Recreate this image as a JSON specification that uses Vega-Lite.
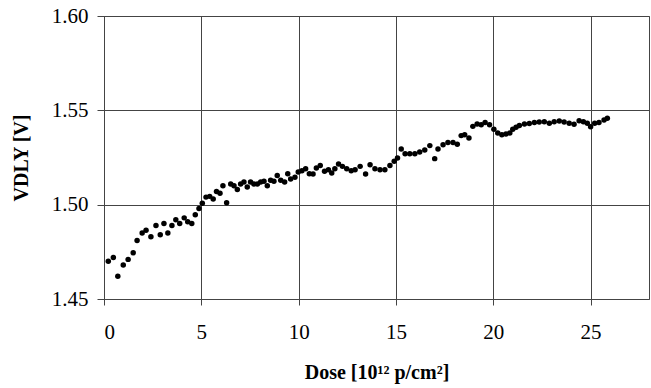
{
  "$schema": "https://vega.github.io/schema/vega-lite/v6.json",
  "width": 545,
  "height": 283,
  "padding": {"left": 104, "top": 16, "right": 2, "bottom": 89},
  "autosize": {"type": "none"},
  "background": "white",
  "config": {
    "view": {"stroke": "#444444", "strokeWidth": 1},
    "axis": {
      "labelFont": "Liberation Serif",
      "titleFont": "Liberation Serif",
      "labelColor": "black",
      "titleColor": "black",
      "gridColor": "#444444",
      "gridOpacity": 1,
      "gridWidth": 1,
      "domainColor": "#444444",
      "tickColor": "#444444"
    }
  },
  "data": {
    "values": [
      {"dose": 0.22, "v": 1.470}, {"dose": 0.48, "v": 1.472}, {"dose": 0.71, "v": 1.462},
      {"dose": 0.99, "v": 1.468}, {"dose": 1.24, "v": 1.471}, {"dose": 1.50, "v": 1.4745},
      {"dose": 1.70, "v": 1.481}, {"dose": 1.96, "v": 1.485}, {"dose": 2.16, "v": 1.4865},
      {"dose": 2.41, "v": 1.483}, {"dose": 2.67, "v": 1.489}, {"dose": 2.89, "v": 1.484},
      {"dose": 3.08, "v": 1.490}, {"dose": 3.28, "v": 1.485}, {"dose": 3.49, "v": 1.489},
      {"dose": 3.69, "v": 1.492}, {"dose": 3.89, "v": 1.490}, {"dose": 4.12, "v": 1.493},
      {"dose": 4.30, "v": 1.491}, {"dose": 4.51, "v": 1.490}, {"dose": 4.69, "v": 1.4947},
      {"dose": 4.88, "v": 1.498}, {"dose": 5.05, "v": 1.5007}, {"dose": 5.24, "v": 1.504},
      {"dose": 5.43, "v": 1.5044}, {"dose": 5.61, "v": 1.503}, {"dose": 5.78, "v": 1.507},
      {"dose": 5.96, "v": 1.506}, {"dose": 6.11, "v": 1.510}, {"dose": 6.30, "v": 1.501},
      {"dose": 6.51, "v": 1.511}, {"dose": 6.68, "v": 1.510}, {"dose": 6.85, "v": 1.508},
      {"dose": 7.02, "v": 1.511}, {"dose": 7.19, "v": 1.512}, {"dose": 7.36, "v": 1.5094},
      {"dose": 7.53, "v": 1.512}, {"dose": 7.70, "v": 1.511}, {"dose": 7.88, "v": 1.511},
      {"dose": 8.05, "v": 1.512}, {"dose": 8.22, "v": 1.5124}, {"dose": 8.39, "v": 1.510},
      {"dose": 8.56, "v": 1.513}, {"dose": 8.73, "v": 1.5124}, {"dose": 8.90, "v": 1.5154},
      {"dose": 9.08, "v": 1.513}, {"dose": 9.28, "v": 1.512}, {"dose": 9.44, "v": 1.5164},
      {"dose": 9.59, "v": 1.5136}, {"dose": 9.81, "v": 1.5145}, {"dose": 9.98, "v": 1.5173},
      {"dose": 10.17, "v": 1.518}, {"dose": 10.36, "v": 1.519}, {"dose": 10.55, "v": 1.5164},
      {"dose": 10.74, "v": 1.5163}, {"dose": 10.91, "v": 1.5194}, {"dose": 11.11, "v": 1.5207},
      {"dose": 11.33, "v": 1.5177}, {"dose": 11.53, "v": 1.5185}, {"dose": 11.70, "v": 1.5168},
      {"dose": 11.86, "v": 1.519}, {"dose": 12.05, "v": 1.5215}, {"dose": 12.25, "v": 1.5203},
      {"dose": 12.47, "v": 1.519}, {"dose": 12.70, "v": 1.518}, {"dose": 12.90, "v": 1.5185},
      {"dose": 13.16, "v": 1.5203}, {"dose": 13.44, "v": 1.5162}, {"dose": 13.67, "v": 1.5212},
      {"dose": 13.92, "v": 1.519}, {"dose": 14.18, "v": 1.5185}, {"dose": 14.43, "v": 1.5185},
      {"dose": 14.69, "v": 1.5207}, {"dose": 14.91, "v": 1.523}, {"dose": 15.08, "v": 1.5247},
      {"dose": 15.27, "v": 1.5295}, {"dose": 15.47, "v": 1.527}, {"dose": 15.71, "v": 1.527},
      {"dose": 15.97, "v": 1.527}, {"dose": 16.22, "v": 1.5279}, {"dose": 16.48, "v": 1.529},
      {"dose": 16.74, "v": 1.5313}, {"dose": 16.99, "v": 1.5244}, {"dose": 17.16, "v": 1.5295},
      {"dose": 17.42, "v": 1.5318}, {"dose": 17.67, "v": 1.533}, {"dose": 17.93, "v": 1.533},
      {"dose": 18.15, "v": 1.532}, {"dose": 18.35, "v": 1.5366}, {"dose": 18.53, "v": 1.537},
      {"dose": 18.75, "v": 1.5353}, {"dose": 18.95, "v": 1.5415}, {"dose": 19.17, "v": 1.5428},
      {"dose": 19.38, "v": 1.5424}, {"dose": 19.58, "v": 1.5436}, {"dose": 19.81, "v": 1.5424},
      {"dose": 20.03, "v": 1.540}, {"dose": 20.23, "v": 1.538}, {"dose": 20.44, "v": 1.537},
      {"dose": 20.65, "v": 1.5375}, {"dose": 20.85, "v": 1.538}, {"dose": 21.00, "v": 1.540},
      {"dose": 21.17, "v": 1.541}, {"dose": 21.34, "v": 1.542}, {"dose": 21.60, "v": 1.5428},
      {"dose": 21.85, "v": 1.543}, {"dose": 22.11, "v": 1.5435}, {"dose": 22.36, "v": 1.5438},
      {"dose": 22.62, "v": 1.544}, {"dose": 22.88, "v": 1.5431}, {"dose": 23.13, "v": 1.544},
      {"dose": 23.39, "v": 1.5444}, {"dose": 23.64, "v": 1.5438}, {"dose": 23.90, "v": 1.5431},
      {"dose": 24.15, "v": 1.5426}, {"dose": 24.41, "v": 1.5445}, {"dose": 24.63, "v": 1.544},
      {"dose": 24.83, "v": 1.5431}, {"dose": 25.00, "v": 1.5413}, {"dose": 25.21, "v": 1.5431},
      {"dose": 25.43, "v": 1.5435}, {"dose": 25.69, "v": 1.5449}, {"dose": 25.86, "v": 1.5458}
    ]
  },
  "mark": {"type": "point", "filled": true, "shape": "circle", "size": 30, "color": "black", "opacity": 1},
  "encoding": {
    "x": {
      "field": "dose",
      "type": "quantitative",
      "scale": {"domain": [0, 28], "nice": false, "zero": false},
      "axis": {
        "values": [0, 5, 10, 15, 20, 25],
        "title": "Dose [10¹² p/cm²]",
        "titleFontSize": 20,
        "titleFontWeight": "bold",
        "titlePadding": 20,
        "labelFontSize": 21,
        "labelPadding": 16,
        "tickSize": 6,
        "domain": false
      }
    },
    "y": {
      "field": "v",
      "type": "quantitative",
      "scale": {"domain": [1.45, 1.6], "nice": false, "zero": false},
      "axis": {
        "values": [1.45, 1.5, 1.55, 1.6],
        "format": ".2f",
        "title": "VDLY [V]",
        "titleFontSize": 20,
        "titleFontWeight": "bold",
        "titlePadding": 20,
        "labelFontSize": 21,
        "labelPadding": 9,
        "tickSize": 7,
        "domain": true
      }
    }
  }
}
